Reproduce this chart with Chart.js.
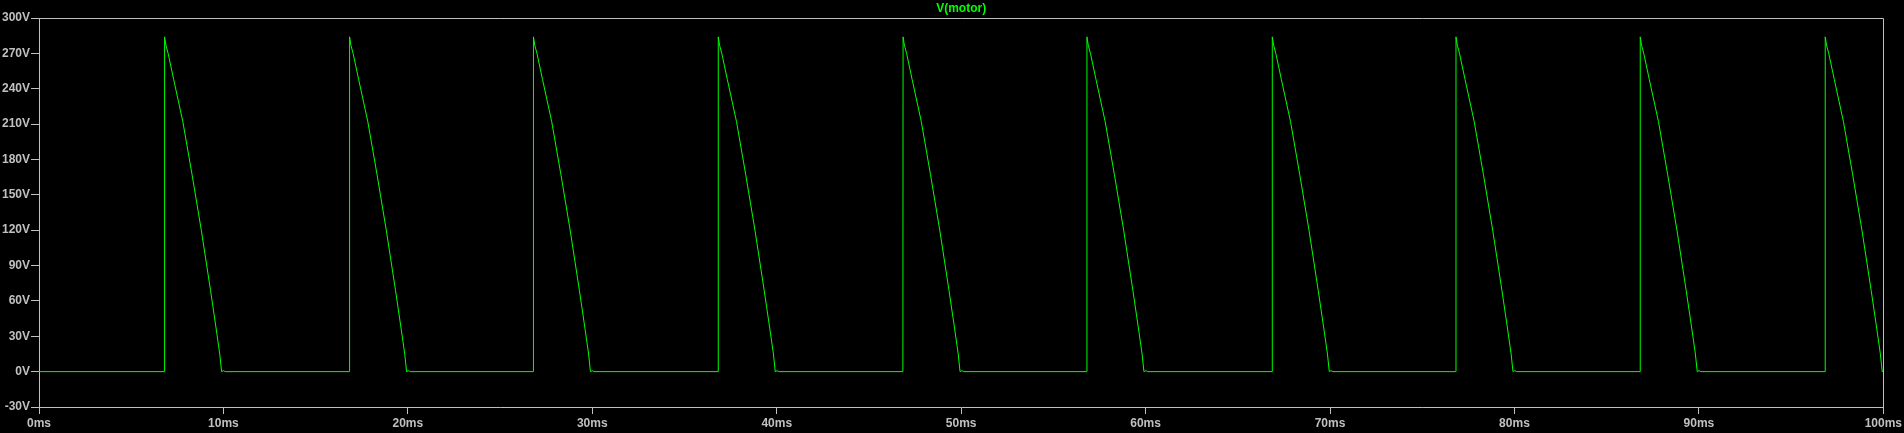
<!DOCTYPE html>
<html>
<head>
    <title>V(motor)</title>
    <script src="https://cdn.jsdelivr.net/npm/chart.js"></script>
    <style>
        html, body { margin: 0; padding: 0; background: #000; }
        #wrap { width: 1904px; height: 433px; }
    </style>
</head>
<body>
    <div id="wrap"><canvas id="motorChart" width="1904" height="433"></canvas></div>

    <script>
        // SCR firing instants (ms) and one pulse decay shape
        const traceName = 'V(motor)';
        const riseMs = [6.8, 16.83, 26.8, 36.82, 46.84, 56.81, 66.86, 76.82, 86.81, 96.84];
        const decayOffsetMs = [0, 0.01, 0.08, 0.2, 0.5, 1.0, 1.5, 2.0, 2.5, 2.8, 3.0, 3.1, 3.2, 3.3];
        const decayVolts = [0, 284, 277, 270, 248, 212, 167, 120, 69, 37, 15, 0, 0.8, 0];
        const xTicksMs = [0, 10, 20, 30, 40, 50, 60, 70, 80, 90, 100];
        const yTicksV = [-30, 0, 30, 60, 90, 120, 150, 180, 210, 240, 270, 300];

        const axisGray = '#c0c0c0';
        const traceGreen = '#00ff00';

        const points = [{x: 0, y: 0}];
        riseMs.forEach(function(r) {
            decayOffsetMs.forEach(function(dt, i) {
                points.push({x: r + dt, y: decayVolts[i]});
            });
        });

        const blackBg = {
            id: 'blackBg',
            beforeDraw: function(chart) {
                const ctx = chart.ctx;
                ctx.save();
                ctx.fillStyle = '#000';
                ctx.fillRect(0, 0, chart.width, chart.height);
                ctx.restore();
            },
            afterDraw: function(chart) {
                const a = chart.chartArea;
                const ctx = chart.ctx;
                ctx.save();
                ctx.strokeStyle = axisGray;
                ctx.lineWidth = 1;
                ctx.beginPath();
                ctx.moveTo(Math.round(a.left), Math.round(a.top) + 0.5);
                ctx.lineTo(Math.round(a.right) + 0.5, Math.round(a.top) + 0.5);
                ctx.lineTo(Math.round(a.right) + 0.5, Math.round(a.bottom));
                ctx.stroke();
                ctx.restore();
            }
        };

        const tickFont = { family: 'Liberation Sans, Arial, sans-serif', size: 12, weight: 'bold' };

        new Chart(document.getElementById('motorChart'), {
            type: 'line',
            data: {
                datasets: [{
                    label: traceName,
                    data: points,
                    borderColor: traceGreen,
                    borderWidth: 1,
                    pointRadius: 0,
                    tension: 0,
                    fill: false
                }]
            },
            options: {
                responsive: false,
                animation: false,
                parsing: false,
                layout: { padding: { left: 0, right: 20, top: 0, bottom: 0 } },
                plugins: {
                    legend: { display: false },
                    tooltip: { enabled: false },
                    title: {
                        display: true,
                        text: traceName,
                        color: traceGreen,
                        fullSize: false,
                        font: { family: 'Liberation Sans, Arial, sans-serif', size: 12, weight: 'bold', lineHeight: 1.2 },
                        padding: { top: 1.3, bottom: 2.3 }
                    }
                },
                scales: {
                    x: {
                        type: 'linear',
                        min: 0,
                        max: 100,
                        afterFit: function(s) { s.height = 26; },
                        afterBuildTicks: function(s) { s.ticks = xTicksMs.map(function(v) { return {value: v}; }); },
                        ticks: {
                            color: axisGray,
                            font: tickFont,
                            padding: 2,
                            maxRotation: 0,
                            callback: function(v) { return v + 'ms'; }
                        },
                        grid: { drawOnChartArea: false, drawTicks: true, tickLength: 7, color: axisGray },
                        border: { color: axisGray }
                    },
                    y: {
                        type: 'linear',
                        min: -30,
                        max: 300,
                        afterFit: function(s) { s.width = 39; },
                        afterBuildTicks: function(s) { s.ticks = yTicksV.map(function(v) { return {value: v}; }); },
                        ticks: {
                            color: axisGray,
                            font: tickFont,
                            padding: 1,
                            callback: function(v) { return v + 'V'; }
                        },
                        grid: { drawOnChartArea: false, drawTicks: true, tickLength: 8, color: axisGray },
                        border: { color: axisGray }
                    }
                }
            },
            plugins: [blackBg]
        });
    </script>
</body>
</html>
